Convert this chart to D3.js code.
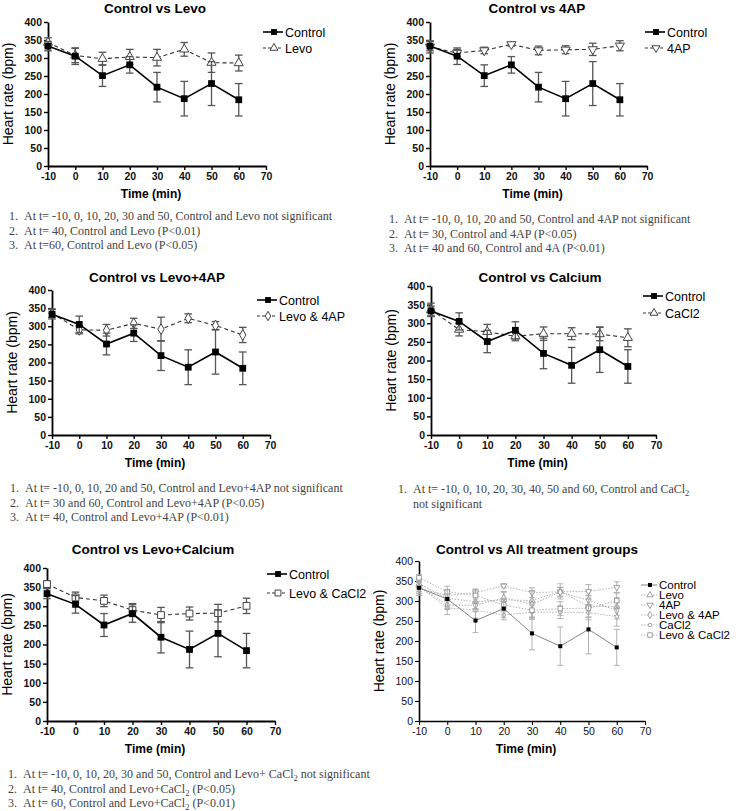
<!DOCTYPE html>
<html>
<head>
<meta charset="utf-8">
<script src="https://cdn.jsdelivr.net/npm/d3@7"></script>
<style>
  body { margin: 0; background: #fff; }
  text { font-family: "Liberation Sans", Arial, sans-serif; }
  .note { font-family: "Liberation Serif", "Times New Roman", serif; font-size: 12px; fill: #444; }
</style>
</head>
<body>
<svg id="fig" width="741" height="811"></svg>
<script>
// ---- data ----
const times = [-10, 0, 10, 20, 30, 40, 50, 60];
const xTicks = [-10, 0, 10, 20, 30, 40, 50, 60, 70];
const yTicks = [0, 50, 100, 150, 200, 250, 300, 350, 400];

const controlMean = [333, 305, 251, 281, 219, 187, 229, 184];
const controlErr  = [13, 23, 30, 23, 41, 48, 61, 45];
const levoMean    = [343, 307, 298, 303, 301, 324, 287, 286];
const levoErr     = [13, 20, 18, 21, 23, 19, 27, 22];
const apMean      = [331, 314, 321, 338, 321, 323, 324, 334];
const apErr       = [17, 10, 9, 5, 12, 11, 17, 14];
const levoApMean  = [336, 290, 289, 308, 292, 322, 302, 276];
const levoApErr   = [12, 11, 16, 14, 33, 12, 11, 21];
const caMean      = [336, 283, 277, 265, 272, 272, 271, 261];
const caErr       = [18, 17, 20, 12, 18, 16, 18, 24];
const levoCaMean  = [358, 323, 314, 290, 277, 281, 282, 301];
const levoCaErr   = [8, 14, 15, 17, 20, 17, 23, 20];

const notesLevo = [
  "At t= -10, 0, 10, 20, 30 and 50, Control and Levo not significant",
  "At t= 40, Control and Levo (P<0.01)",
  "At t=60, Control and Levo (P<0.05)"
];
const notes4AP = [
  "At t= -10, 0, 10, 20 and 50, Control and 4AP not significant",
  "At t= 30, Control and 4AP (P<0.05)",
  "At t= 40 and 60, Control and 4A (P<0.01)"
];
const notesLevo4AP = [
  "At t= -10, 0, 10, 20 and 50, Control and Levo+4AP not significant",
  "At t= 30 and 60, Control and Levo+4AP (P<0.05)",
  "At t= 40, Control and Levo+4AP (P<0.01)"
];
const notesCa = [
  "At t= -10, 0, 10, 20, 30, 40, 50 and 60, Control and CaCl_2",
  "not significant"
];
const notesLevoCa = [
  "At t= -10, 0, 10, 20, 30 and 50, Control and Levo+ CaCl_2 not significant",
  "At t= 40, Control and Levo+CaCl_2 (P<0.05)",
  "At t= 60, Control and Levo+CaCl_2 (P<0.01)"
];

// ---- series definitions ----
const S = {
  control: { name: "Control", mean: controlMean, err: controlErr, sym: "square" },
  levo:    { name: "Levo", mean: levoMean, err: levoErr, sym: "triUp" },
  ap:      { name: "4AP", mean: apMean, err: apErr, sym: "triDown" },
  levoAp:  { name: "Levo & 4AP", mean: levoApMean, err: levoApErr, sym: "diamond" },
  ca:      { name: "CaCl2", mean: caMean, err: caErr, sym: "triUp" },
  levoCa:  { name: "Levo & CaCl2", mean: levoCaMean, err: levoCaErr, sym: "squareOpen" }
};
const S6 = { ...S, ca: { ...S.ca, sym: "circle" } };

// ---- panel layout ----
const panels = [
  { title: "Control vs Levo", x0: 48, x1: 266, yT: 22, yB: 166, tx: 155, ty: 13,
    legX: 263, legY: [32, 48], series: [S.control, S.levo],
    notes: notesLevo, nX: 9, nY: 216 },
  { title: "Control vs 4AP", x0: 430, x1: 647, yT: 22, yB: 166, tx: 537, ty: 13,
    legX: 645, legY: [32, 48], series: [S.control, S.ap],
    notes: notes4AP, nX: 389, nY: 219 },
  { title: "Control vs Levo+4AP", x0: 52, x1: 270, yT: 290, yB: 435, tx: 157, ty: 282,
    legX: 257, legY: [300, 316], series: [S.control, S.levoAp],
    notes: notesLevo4AP, nX: 10, nY: 488 },
  { title: "Control vs Calcium", x0: 431, x1: 656, yT: 286, yB: 435, tx: 540, ty: 282,
    legX: 643, legY: [296, 313], series: [S.control, S.ca],
    notes: notesCa, nX: 398, nY: 489, numbered: 1 },
  { title: "Control vs Levo+Calcium", x0: 47, x1: 275, yT: 568, yB: 721, tx: 153, ty: 554,
    legX: 267, legY: [574, 593], series: [S.control, S.levoCa],
    notes: notesLevoCa, nX: 8, nY: 774 },
  { title: "Control vs All treatment groups", x0: 419, x1: 645, yT: 561, yB: 721, tx: 537, ty: 554,
    legX: 641, legY: [585, 595, 605, 615, 625, 635], all: true,
    series: [S6.control, S6.levo, S6.ap, S6.levoAp, S6.ca, S6.levoCa] }
];

const svg = d3.select("#fig");

function symbolPath(sym, scale) {
  const k = scale || 1;
  switch (sym) {
    case "square":
    case "squareOpen": return d3.symbol(d3.symbolSquare, 46 * k)();
    case "triUp":
    case "triDown": return d3.symbol(d3.symbolTriangle, 36 * k)();
    case "diamond": return d3.symbol(d3.symbolDiamond, 34 * k)();
    case "circle": return d3.symbol(d3.symbolCircle, 22 * k)();
  }
}

function drawMarker(g, sym, x, y, opt) {
  const p = g.append("path")
    .attr("d", symbolPath(sym, opt.scale))
    .attr("transform", `translate(${x},${y})` + (sym === "triDown" ? " rotate(180)" : ""));
  if (sym === "square") p.attr("fill", opt.solid).attr("stroke", "none");
  else p.attr("fill", "#fff").attr("stroke", opt.stroke).attr("stroke-width", opt.sw);
}

function addSubText(sel, str) {
  // "CaCl_2" -> CaCl with subscript 2
  const parts = str.split("_2");
  parts.forEach((p, i) => {
    const t = sel.append("tspan").text(p);
    if (i > 0) t.attr("dy", -3);
    if (i < parts.length - 1) {
      sel.append("tspan").attr("dy", 3).attr("font-size", 8.5).text("2");
    }
  });
}

panels.forEach(P => {
  const g = svg.append("g");
  const x = d3.scaleLinear().domain([-10, 70]).range([P.x0, P.x1]);
  const y = d3.scaleLinear().domain([0, 400]).range([P.yB, P.yT]);
  const all = !!P.all;

  // title
  g.append("text")
    .attr("x", P.tx).attr("y", P.ty)
    .attr("text-anchor", "middle")
    .attr("font-size", 13.5).attr("font-weight", "bold")
    .text(P.title);

  // axes
  const fmt = d => String(d);
  const yAxis = g.append("g").attr("transform", `translate(${P.x0},0)`)
    .call(d3.axisLeft(y).tickValues(yTicks).tickFormat(fmt).tickSize(4).tickSizeOuter(0).tickPadding(2));
  const xAxis = g.append("g").attr("transform", `translate(0,${P.yB})`)
    .call(d3.axisBottom(x).tickValues(xTicks).tickFormat(fmt).tickSize(4).tickSizeOuter(0).tickPadding(3));
  [yAxis, xAxis].forEach(a => {
    a.select(".domain").attr("stroke", "#000").attr("stroke-width", all ? 1.6 : 1.8);
    a.selectAll(".tick line").attr("stroke", "#000").attr("stroke-width", all ? 1.1 : 1.4);
    a.selectAll(".tick text")
      .attr("font-family", "Liberation Sans, Arial, sans-serif")
      .attr("font-size", 10.5)
      .attr("font-weight", all ? "normal" : "bold")
      .attr("fill", "#111");
  });

  // axis titles
  g.append("text")
    .attr("transform", `translate(${P.x0 - 35},${(P.yT + P.yB) / 2}) rotate(-90)`)
    .attr("text-anchor", "middle")
    .attr("font-size", 14)
    .text("Heart rate (bpm)");
  g.append("text")
    .attr("x", (P.x0 + P.x1) / 2 - 6).attr("y", P.yB + 32)
    .attr("text-anchor", "middle")
    .attr("font-size", 12).attr("font-weight", "bold")
    .text("Time (min)");

  // series: draw treatment first, control on top
  const order = P.series.slice(1).concat([P.series[0]]);
  order.forEach(s => {
    const isCtrl = s.sym === "square";
    const pts = times.map((t, i) => ({ t, m: s.mean[i], e: s.err[i] }));
    const lineCol = all ? (isCtrl ? "#777" : "#aaa") : (isCtrl ? "#000" : "#333");
    const barCol = all ? "#aaa" : "#555";

    // error bars
    const eb = g.append("g").attr("stroke", barCol).attr("stroke-width", all ? 0.9 : 1.3);
    pts.forEach(d => {
      const cx = x(d.t), w = all ? 3 : 3.8;
      eb.append("line").attr("x1", cx).attr("x2", cx).attr("y1", y(d.m - d.e)).attr("y2", y(d.m + d.e));
      eb.append("line").attr("x1", cx - w).attr("x2", cx + w).attr("y1", y(d.m + d.e)).attr("y2", y(d.m + d.e));
      eb.append("line").attr("x1", cx - w).attr("x2", cx + w).attr("y1", y(d.m - d.e)).attr("y2", y(d.m - d.e));
    });

    // line
    g.append("path")
      .datum(pts)
      .attr("fill", "none")
      .attr("stroke", lineCol)
      .attr("stroke-width", all ? 0.9 : (isCtrl ? 1.6 : 1.1))
      .attr("stroke-dasharray", isCtrl ? null : (all ? "1.5,1.5" : "4,3"))
      .attr("d", d3.line().x(d => x(d.t)).y(d => y(d.m)));

    // markers
    pts.forEach(d => drawMarker(g, s.sym, x(d.t), y(d.m), all
      ? { scale: isCtrl ? 0.35 : 0.45, solid: "#000", stroke: "#888", sw: 0.8 }
      : { scale: 1, solid: "#000", stroke: "#444", sw: 1 }));
  });

  // legend
  P.series.forEach((s, i) => {
    const isCtrl = s.sym === "square";
    const ly = P.legY[i];
    const lw = all ? 16 : 20;
    g.append("line")
      .attr("x1", P.legX).attr("x2", P.legX + lw).attr("y1", ly).attr("y2", ly)
      .attr("stroke", all ? (isCtrl ? "#777" : "#aaa") : (isCtrl ? "#000" : "#333"))
      .attr("stroke-width", all ? 0.9 : (isCtrl ? 1.6 : 1.1))
      .attr("stroke-dasharray", isCtrl ? null : (all ? "1.5,1.5" : "3,2"));
    drawMarker(g, s.sym, P.legX + lw / 2 + 1, ly, all
      ? { scale: isCtrl ? 0.35 : 0.45, solid: "#000", stroke: "#888", sw: 0.8 }
      : { scale: 0.75, solid: "#000", stroke: "#444", sw: 1 });
    g.append("text")
      .attr("x", P.legX + lw + 2).attr("y", ly + (all ? 4 : 4.5))
      .attr("font-size", all ? 11.5 : 12.5)
      .text(s.name);
  });

  // notes
  if (P.notes) {
    P.notes.forEach((line, i) => {
      const ny = P.nY + i * 14.5 + 4;
      const numbered = P.numbered ? i < P.numbered : true;
      if (numbered) {
        g.append("text").attr("class", "note").attr("x", P.nX).attr("y", ny).text((i + 1) + ".");
      }
      const t = g.append("text").attr("class", "note").attr("x", P.nX + 15).attr("y", ny);
      addSubText(t, line);
    });
  }
});
</script>
</body>
</html>
